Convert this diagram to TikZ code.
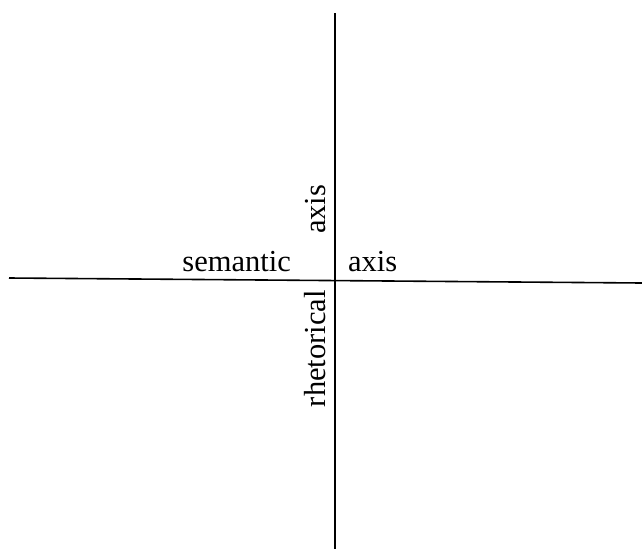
\documentclass[tikz,border=0pt]{standalone}
\usepackage{fontspec}
\setmainfont{Liberation Serif}
\begin{document}
\begin{tikzpicture}[x=1pt, y=-1pt, every node/.style={inner sep=0pt, font=\fontsize{30.5}{36}\selectfont}]
        \useasboundingbox (0,0) rectangle (642,549);
        \coordinate (L) at (9,278);
        \coordinate (R) at (642,283);
        \coordinate (T) at (335,13);
        \coordinate (B) at (335,549);

        \draw[line width=1.6pt] (L) -- (R);
        \draw[line width=1.6pt] (T) -- (B);

        \node[anchor=base east] (sem) at (291,271) {semantic};
        \node[anchor=base west] (axh) at (348,271) {axis};
        \node[rotate=90, anchor=base west] (axv) at (325,234) {axis};
        \node[rotate=90, anchor=base east] (rhet) at (325,290) {rhetorical};
    \end{tikzpicture}
\end{document}
